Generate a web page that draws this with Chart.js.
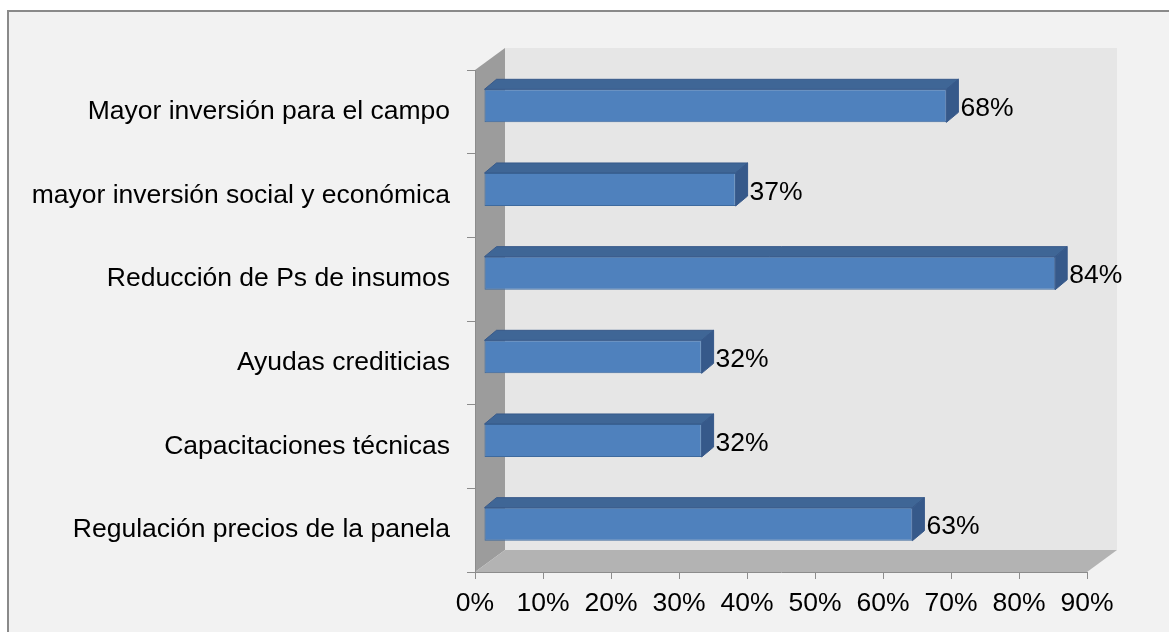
<!DOCTYPE html>
<html>
<head>
<meta charset="utf-8">
<script src="https://cdn.jsdelivr.net/npm/chart.js@4.4.1/dist/chart.umd.min.js"></script>
<style>
  html, body { margin:0; padding:0; background:#ffffff; overflow:hidden; }
  #box { position:absolute; left:7px; top:10px; width:1300px; height:800px; border:2px solid #8a8a8a; background:#f2f2f2; }
  #c { position:absolute; left:0; top:0; }
</style>
</head>
<body>
<div id="box"></div>
<canvas id="c" width="1169" height="632"></canvas>
<script>
const categories = [
  'Mayor inversión para el campo',
  'mayor inversión social y económica',
  'Reducción de Ps de insumos',
  'Ayudas crediticias',
  'Capacitaciones técnicas',
  'Regulación precios de la panela'
];
const values = [68, 37, 84, 32, 32, 63];
const xTickValues = [0, 10, 20, 30, 40, 50, 60, 70, 80, 90];
const xTickLabels = ['0%', '10%', '20%', '30%', '40%', '50%', '60%', '70%', '80%', '90%'];

const FONT = "'Liberation Sans', Arial, sans-serif";
const WALL_DX = 30, WALL_DY = -22;   // depth of 3D walls
const OX = 9, OY = -6;               // bar front plane offset
const DX = 12, DY = -10;             // bar depth

const threeD = {
  id: 'threeD',
  beforeDraw(chart) {
    const ctx = chart.ctx, a = chart.chartArea;
    ctx.save();
    ctx.fillStyle = '#e6e6e6';
    ctx.fillRect(a.left + WALL_DX, a.top + WALL_DY, a.right - a.left, a.bottom - a.top);
    ctx.fillStyle = '#9c9c9c';
    ctx.beginPath();
    ctx.moveTo(a.left, a.top);
    ctx.lineTo(a.left + WALL_DX, a.top + WALL_DY);
    ctx.lineTo(a.left + WALL_DX, a.bottom + WALL_DY);
    ctx.lineTo(a.left, a.bottom);
    ctx.closePath();
    ctx.fill();
    ctx.fillStyle = '#b3b3b3';
    ctx.beginPath();
    ctx.moveTo(a.left, a.bottom);
    ctx.lineTo(a.left + WALL_DX, a.bottom + WALL_DY);
    ctx.lineTo(a.right + WALL_DX, a.bottom + WALL_DY);
    ctx.lineTo(a.right, a.bottom);
    ctx.closePath();
    ctx.fill();
    ctx.restore();
  },
  beforeDatasetsDraw(chart) {
    chart.ctx.save();
    chart.ctx.translate(OX, OY);
  },
  afterDatasetsDraw(chart) {
    const ctx = chart.ctx;
    ctx.restore();
    const meta = chart.getDatasetMeta(0);
    meta.data.forEach((el, i) => {
      const p = el.getProps(['x', 'y', 'base', 'height'], true);
      const left = Math.min(p.base, p.x) + OX, right = Math.max(p.base, p.x) + OX;
      const top = p.y - p.height / 2 + OY, bottom = p.y + p.height / 2 + OY;
      ctx.save();
      ctx.lineWidth = 1;
      ctx.strokeStyle = '#37598a';
      ctx.fillStyle = '#3f6696';
      ctx.beginPath();
      ctx.moveTo(left, top);
      ctx.lineTo(left + DX, top + DY);
      ctx.lineTo(right + DX, top + DY);
      ctx.lineTo(right, top);
      ctx.closePath();
      ctx.fill();
      ctx.stroke();
      ctx.fillStyle = '#36598a';
      ctx.beginPath();
      ctx.moveTo(right, top);
      ctx.lineTo(right + DX, top + DY);
      ctx.lineTo(right + DX, bottom + DY);
      ctx.lineTo(right, bottom);
      ctx.closePath();
      ctx.fill();
      ctx.stroke();
      ctx.fillStyle = '#000000';
      ctx.font = '26.5px ' + FONT;
      ctx.textAlign = 'left';
      ctx.textBaseline = 'middle';
      ctx.fillText(values[i] + '%', right + DX + 2, p.y + OY + 3);
      ctx.restore();
    });
  }
};

new Chart(document.getElementById('c'), {
  type: 'bar',
  data: {
    labels: categories,
    datasets: [{
      data: values,
      backgroundColor: '#4f81bd',
      borderColor: '#3e6a9e',
      borderWidth: 1,
      borderSkipped: false,
      barPercentage: 0.395,
      categoryPercentage: 1
    }]
  },
  options: {
    indexAxis: 'y',
    responsive: false,
    animation: false,
    devicePixelRatio: 1,
    layout: { padding: { left: 0, top: 70, right: 82, bottom: 0 } },
    plugins: { legend: { display: false }, tooltip: { enabled: false } },
    scales: {
      x: {
        min: 0, max: 90,
        afterBuildTicks(scale) { scale.ticks = xTickValues.map(v => ({ value: v })); },
        afterFit(scale) { scale.height = 60; },
        ticks: {
          autoSkip: false, maxRotation: 0,
          color: '#000000',
          font: { family: FONT, size: 26.5 },
          padding: 9,
          callback: (v, i) => xTickLabels[i]
        },
        grid: { drawOnChartArea: false, drawTicks: true, tickLength: 7, color: '#8c8c8c' },
        border: { display: true, color: '#8c8c8c', width: 1 }
      },
      y: {
        afterFit(scale) { scale.width = 475; },
        ticks: {
          color: '#000000',
          font: { family: FONT, size: 26.5 },
          padding: 17
        },
        grid: { drawOnChartArea: false, drawTicks: true, tickLength: 8, color: '#8c8c8c', offset: true },
        border: { display: true, color: '#8c8c8c', width: 1 }
      }
    }
  },
  plugins: [threeD]
});
</script>
</body>
</html>
